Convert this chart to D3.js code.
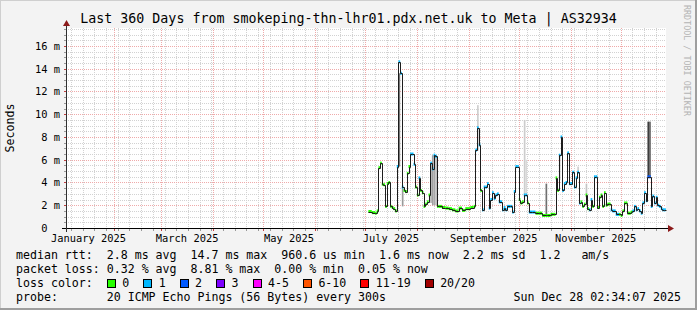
<!DOCTYPE html>
<html>
<head>
<meta charset="utf-8">
<script src="https://cdn.jsdelivr.net/npm/d3@7"></script>
<style>
    body { margin: 0; background: #f3f3f3; }
    svg { display: block; }
    text { font-family: "DejaVu Sans Mono", monospace; fill: #000; }
</style>
</head>
<body>
<svg id="chart" width="697" height="310"></svg>
<script>
const title = 'Last 360 Days from smokeping-thn-lhr01.pdx.net.uk to Meta | AS32934'
const yLabel = 'Seconds'
const watermark = 'RRDTOOL / TOBI OETIKER'
const rangeStart = '2025-01-03 00:00:00'
const rangeEnd = '2025-12-28 02:34:07'
const yTicks = [0, 2, 4, 6, 8, 10, 12, 14, 16]
const monthLabels = ['January 2025', 'March 2025', 'May 2025', 'July 2025', 'September 2025', 'November 2025']
const monthLabelDates = ['2025-01-01', '2025-03-01', '2025-05-01', '2025-07-01', '2025-09-01', '2025-11-01']

// median rtt in ms, loss = index into the loss colour list
const medianDates = [
    '07-03', '07-05', '07-07', '07-08', '07-09', '07-10', '07-11', '07-12', '07-13', '07-14',
    '07-15', '07-16', '07-17', '07-18', '07-19', '07-20', '07-21', '07-22', '07-23', '07-24',
    '07-25', '07-26', '07-27', '07-28', '07-29', '07-30', '07-31', '08-01', '08-02', '08-03',
    '08-04', '08-05', '08-06', '08-07', '08-08', '08-09', '08-10', '08-11', '08-12', '08-13',
    '08-14', '08-16', '08-18', '08-20', '08-22', '08-24', '08-26', '08-28', '08-30', '09-02',
    '09-04', '09-05', '09-06', '09-07', '09-08', '09-09', '09-10', '09-11', '09-12', '09-13',
    '09-14', '09-15', '09-16', '09-17', '09-18', '09-19', '09-21', '09-22', '09-23', '09-24',
    '09-26', '09-27', '09-28', '09-29', '09-30', '10-01', '10-02', '10-03', '10-04', '10-05',
    '10-06', '10-07', '10-09', '10-11', '10-13', '10-15', '10-17', '10-18', '10-20', '10-22',
    '10-23', '10-24', '10-25', '10-26', '10-27', '10-28', '10-29', '10-30', '10-31', '11-01',
    '11-02', '11-03', '11-04', '11-05', '11-06', '11-07', '11-08', '11-09', '11-10', '11-11',
    '11-12', '11-13', '11-14', '11-15', '11-16', '11-17', '11-18', '11-19', '11-20', '11-21',
    '11-22', '11-23', '11-24', '11-25', '11-26', '11-28', '11-30', '12-01', '12-02', '12-03',
    '12-04', '12-05', '12-07', '12-08', '12-09', '12-10', '12-11', '12-12', '12-13', '12-14',
    '12-15', '12-16', '12-17', '12-18', '12-19', '12-20', '12-21', '12-22', '12-23', '12-24',
    '12-25', '12-26', '12-27'
]
const medianValues = [
    1.45, 1.35, 1.3, 1.5, 5.3, 5.7, 3.85, 3.8, 1.9, 3.9,
    4.0, 1.9, 1.8, 1.7, 1.5, 5.4, 14.6, 13.6, 3.6, 3.3,
    3.2, 4.8, 5.4, 6.5, 6.5, 5.6, 3.6, 2.9, 4.4, 3.3,
    3.1, 1.9, 2.1, 2.3, 2.9, 5.7, 5.2, 6.4, 6.3, 1.9,
    1.9, 1.8, 1.75, 1.7, 1.6, 1.5, 1.75, 1.55, 1.7, 1.8,
    1.9, 6.85, 8.8, 7.3, 3.3, 1.6, 3.6, 3.6, 3.9, 1.75,
    2.5, 3.1, 2.6, 2.9, 3.0, 2.3, 1.6, 1.8, 1.6, 1.9,
    1.9, 1.4, 3.2, 5.4, 5.4, 2.5, 2.2, 2.3, 2.9, 2.9,
    2.2, 1.4, 1.4, 1.3, 1.3, 1.1, 1.1, 1.1, 1.2, 1.2,
    4.4, 3.3, 6.4, 8.0, 3.3, 3.9, 4.0, 6.6, 3.9, 3.9,
    4.9, 3.6, 4.4, 4.9, 2.2, 2.3, 1.9, 2.1, 2.9, 1.7,
    1.6, 2.5, 1.9, 4.5, 4.5, 1.8, 2.7, 2.9, 1.9, 3.1,
    2.0, 2.1, 2.1, 1.6, 1.5, 1.2, 1.2, 1.1, 1.5, 2.2,
    2.2, 1.3, 1.4, 1.5, 1.9, 1.6, 1.7, 1.5, 1.3, 2.2,
    3.1, 2.4, 4.5, 4.5, 1.9, 2.8, 2.2, 2.7, 2.0, 1.9,
    1.7, 1.6, 1.6
]
const medianLoss = [
    0, 0, 0, 0, 0, 0, 0, 0, 0, 0,
    0, 0, 0, 0, 0, 1, 1, 1, 1, 0,
    0, 0, 0, 1, 1, 1, 0, 0, 1, 0,
    0, 0, 0, 0, 0, 1, 1, 1, 1, 0,
    0, 0, 0, 0, 0, 0, 0, 0, 0, 0,
    0, 1, 1, 1, 0, 1, 1, 1, 1, 1,
    1, 1, 1, 1, 1, 1, 1, 1, 1, 1,
    1, 1, 1, 1, 1, 0, 0, 0, 1, 1,
    0, 1, 1, 0, 0, 0, 0, 0, 0, 0,
    0, 0, 1, 1, 1, 1, 1, 1, 1, 1,
    1, 1, 1, 1, 1, 0, 0, 0, 0, 0,
    1, 1, 0, 1, 1, 0, 0, 0, 0, 0,
    0, 0, 0, 1, 1, 1, 0, 0, 0, 0,
    0, 0, 0, 1, 1, 1, 1, 1, 1, 1,
    1, 1, 2, 2, 1, 1, 1, 1, 1, 1,
    1, 1, 1
]

// visible smoke (spread of the 20 pings), ms
const smokeDates = ['07-21', '07-23', '08-09', '08-10', '08-11', '08-12', '09-06', '10-04', '10-05', '10-17', '10-25', '11-05', '11-10', '12-17', '12-18']
const smokeLow = [5.4, 1.9, 2.2, 2.0, 2.0, 2.0, 6.8, 2.9, 2.9, 1.1, 4.2, 4.8, 2.7, 4.5, 4.5]
const smokeHigh = [13.6, 3.6, 5.7, 6.4, 6.4, 6.3, 10.8, 9.5, 6.0, 3.9, 6.4, 5.4, 3.9, 9.35, 9.35]
const smokeShade = ['#7a7a7a', '#9a9a9a', '#b4b4b4', '#a0a0a0', '#a8a8a8', '#bdbdbd', '#cfcfcf', '#cdcdcd', '#d8d8d8', '#707070', '#c8c8c8', '#cfcfcf', '#c4c4c4', '#3c3c3c', '#606060']

const lossLabels = ['0', '1', '2', '3', '4-5', '6-10', '11-19', '20/20']
const lossColors = ['#26ff00', '#00b8ff', '#0059ff', '#7e00ff', '#ff00ff', '#ff5500', '#ff0000', '#a10000']

const legendLines = [
    'median rtt:  2.8 ms avg  14.7 ms max  960.6 us min  1.6 ms now  2.2 ms sd  1.2   am/s',
    'packet loss: 0.32 % avg  8.81 % max  0.00 % min  0.05 % now'
]
const probeLine = 'probe:       20 ICMP Echo Pings (56 Bytes) every 300s'
const stampText = 'Sun Dec 28 02:34:07 2025'

const W = 697, H = 310
const plotLeft = 66, plotTop = 28, plotW = 600, plotH = 200
const CHAR = 6.98

const parseFull = d3.timeParse('%Y-%m-%d %H:%M:%S')
const parseDay = d3.timeParse('%Y-%m-%d')
const dayOf = s => parseDay('2025-' + s)

const svg = d3.select('#chart')

// background + 3d frame like rrdtool
svg.append('rect').attr('width', W).attr('height', H).attr('fill', '#f3f3f3')
svg.append('path').attr('d', `M0,${H} V0 H${W}`).attr('fill', 'none').attr('stroke', '#cfcfcf').attr('stroke-width', 2)
svg.append('path').attr('d', `M0,${H - 1} H${W - 1} V0`).attr('fill', 'none').attr('stroke', '#9e9e9e').attr('stroke-width', 2)

const x = d3.scaleTime()
    .domain([parseFull(rangeStart), parseFull(rangeEnd)])
    .range([plotLeft, plotLeft + plotW])
const y = d3.scaleLinear()
    .domain([0, 17.58])
    .range([plotTop + plotH, plotTop])

svg.append('rect')
    .attr('x', plotLeft).attr('y', plotTop)
    .attr('width', plotW).attr('height', plotH)
    .attr('fill', '#fff')

// grid
const grid = svg.append('g').attr('shape-rendering', 'crispEdges')
const minorY = d3.range(0.5, 17.6, 0.5).filter(v => v % 2 !== 0)
const majorY = yTicks.filter(v => v > 0)
const weeks = d3.timeMonday.range(x.domain()[0], x.domain()[1])
const months = d3.timeMonth.range(x.domain()[0], x.domain()[1])

grid.selectAll('.hmin').data(minorY).enter().append('line')
    .attr('x1', plotLeft).attr('x2', plotLeft + plotW)
    .attr('y1', d => Math.round(y(d)) + 0.5).attr('y2', d => Math.round(y(d)) + 0.5)
    .attr('stroke', '#d2d2d2').attr('stroke-dasharray', '1,1')
grid.selectAll('.vmin').data(weeks).enter().append('line')
    .attr('x1', d => Math.round(x(d)) + 0.5).attr('x2', d => Math.round(x(d)) + 0.5)
    .attr('y1', plotTop).attr('y2', plotTop + plotH)
    .attr('stroke', '#d2d2d2').attr('stroke-dasharray', '1,1')
grid.selectAll('.hmaj').data(majorY).enter().append('line')
    .attr('x1', plotLeft).attr('x2', plotLeft + plotW)
    .attr('y1', d => Math.round(y(d)) + 0.5).attr('y2', d => Math.round(y(d)) + 0.5)
    .attr('stroke', '#efaaaa').attr('stroke-dasharray', '1,1')
grid.selectAll('.vmaj').data(months).enter().append('line')
    .attr('x1', d => Math.round(x(d)) + 0.5).attr('x2', d => Math.round(x(d)) + 0.5)
    .attr('y1', plotTop).attr('y2', plotTop + plotH)
    .attr('stroke', '#efaaaa').attr('stroke-dasharray', '1,1')

// smoke
svg.append('g').selectAll('rect').data(smokeDates).enter().append('rect')
    .attr('x', d => x(dayOf(d)))
    .attr('width', d => x(d3.timeDay.offset(dayOf(d), 1)) - x(dayOf(d)))
    .attr('y', (d, i) => y(smokeHigh[i]))
    .attr('height', (d, i) => y(smokeLow[i]) - y(smokeHigh[i]))
    .attr('fill', (d, i) => smokeShade[i])

// median: loss coloured plateaus then the step line
const pts = medianDates.map((d, i) => ({ date: dayOf(d), v: medianValues[i], loss: medianLoss[i] }))
pts.forEach((p, i) => {
    p.next = i < pts.length - 1 ? pts[i + 1].date : d3.timeDay.offset(p.date, 1)
})
svg.append('g').selectAll('rect').data(pts).enter().append('rect')
    .attr('x', p => x(p.date))
    .attr('width', p => Math.max(1.6, x(p.next) - x(p.date)))
    .attr('y', p => y(p.v) - 1.5)
    .attr('height', 3)
    .attr('fill', p => lossColors[p.loss])

const lineData = pts.concat([{ date: pts[pts.length - 1].next, v: pts[pts.length - 1].v }])
svg.append('path')
    .datum(lineData)
    .attr('fill', 'none')
    .attr('stroke', '#1c1c1c')
    .attr('stroke-width', 1)
    .attr('d', d3.line().curve(d3.curveStepAfter)
        .x(p => Math.round(x(p.date)) + 0.5)
        .y(p => Math.round(y(p.v)) + 0.5))

// axes
const axis = svg.append('g').attr('shape-rendering', 'crispEdges')
axis.append('line')
    .attr('x1', plotLeft - 4).attr('x2', plotLeft + plotW + 4)
    .attr('y1', plotTop + plotH + 0.5).attr('y2', plotTop + plotH + 0.5)
    .attr('stroke', '#000')
axis.append('line')
    .attr('x1', plotLeft + 0.5).attr('x2', plotLeft + 0.5)
    .attr('y1', plotTop + plotH + 4).attr('y2', plotTop - 4)
    .attr('stroke', '#303030')
axis.selectAll('.ty').data(minorY.concat(majorY)).enter().append('line')
    .attr('x1', plotLeft - 2).attr('x2', plotLeft)
    .attr('y1', d => Math.round(y(d)) + 0.5).attr('y2', d => Math.round(y(d)) + 0.5)
    .attr('stroke', d => d % 2 === 0 ? '#c04040' : '#999')
axis.selectAll('.tx').data(weeks).enter().append('line')
    .attr('x1', d => Math.round(x(d)) + 0.5).attr('x2', d => Math.round(x(d)) + 0.5)
    .attr('y1', plotTop + plotH + 1).attr('y2', plotTop + plotH + 3)
    .attr('stroke', '#999')
axis.selectAll('.tm').data(months).enter().append('line')
    .attr('x1', d => Math.round(x(d)) + 0.5).attr('x2', d => Math.round(x(d)) + 0.5)
    .attr('y1', plotTop + plotH + 1).attr('y2', plotTop + plotH + 3)
    .attr('stroke', '#c04040')

const arrow = '#8b1a1a'
svg.append('path')
    .attr('d', `M${plotLeft + plotW + 2},${plotTop + plotH - 3} L${plotLeft + plotW + 2},${plotTop + plotH + 4} L${plotLeft + plotW + 8},${plotTop + plotH + 0.5} Z`)
    .attr('fill', arrow)
svg.append('path')
    .attr('d', `M${plotLeft - 3},${plotTop - 2} L${plotLeft + 4},${plotTop - 2} L${plotLeft + 0.5},${plotTop - 8} Z`)
    .attr('fill', arrow)

// tick labels
svg.append('g').selectAll('text').data(yTicks).enter().append('text')
    .attr('x', plotLeft - 6)
    .attr('y', d => y(d) + 4)
    .attr('text-anchor', 'end')
    .attr('xml:space', 'preserve')
    .style('font-size', '10.4px')
    .text(d => d === 0 ? '0  ' : `${d} m`)

svg.append('g').selectAll('text').data(monthLabelDates).enter().append('text')
    .attr('x', d => {
        const s = parseDay(d)
        return (x(s) + x(d3.timeMonth.offset(s, 1))) / 2
    })
    .attr('y', plotTop + plotH + 14)
    .attr('text-anchor', 'middle')
    .style('font-size', '10.4px')
    .text((d, i) => monthLabels[i])

svg.append('text')
    .attr('transform', 'translate(14,128) rotate(-90)')
    .attr('text-anchor', 'middle')
    .style('font-size', '11.6px')
    .text(yLabel)

svg.append('text')
    .attr('x', W / 2).attr('y', 23)
    .attr('text-anchor', 'middle')
    .style('font-size', '13.3px')
    .text(title)

svg.append('text')
    .attr('transform', 'translate(684,5) rotate(90)')
    .style('font-size', '8.4px')
    .style('fill', '#b4b4b4')
    .text(watermark)

// legend
const legend = svg.append('g').style('font-size', '11.6px')
legend.selectAll('.row').data(legendLines).enter().append('text')
    .attr('x', 16).attr('y', (d, i) => 259 + i * 14)
    .attr('xml:space', 'preserve')
    .text(d => d)

legend.append('text').attr('x', 16).attr('y', 287).text('loss color:')
let cursor = 16 + 13 * CHAR
lossLabels.forEach((label, i) => {
    legend.append('rect')
        .attr('x', Math.round(cursor) + 0.5).attr('y', 279.5)
        .attr('width', 8).attr('height', 8)
        .attr('fill', lossColors[i]).attr('stroke', '#000')
    legend.append('text').attr('x', cursor + 15.5).attr('y', 287).text(label)
    cursor = cursor + 15.5 + label.length * CHAR + 2 * CHAR
})

legend.append('text').attr('x', 16).attr('y', 301)
    .attr('xml:space', 'preserve')
    .text(probeLine)
legend.append('text').attr('x', 681).attr('y', 301)
    .attr('text-anchor', 'end')
    .text(stampText)
</script>
</body>
</html>
